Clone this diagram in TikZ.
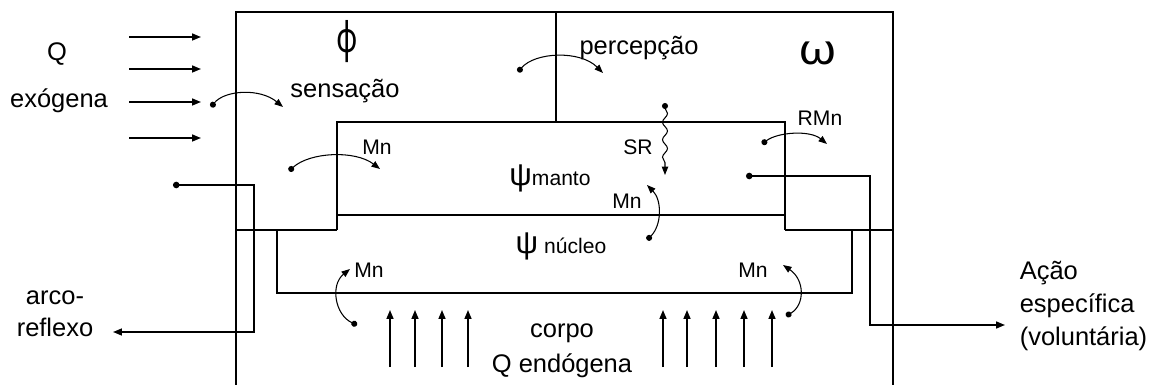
\documentclass[tikz,border=0pt]{standalone}
\usepackage{fontspec}
\setmainfont{Liberation Sans}
\newfontfamily\greekfont{Noto Sans}
\usetikzlibrary{arrows.meta, decorations.pathmorphing}

\begin{document}
\begin{tikzpicture}[x=0.02cm, y=-0.02cm, line width=0.9pt,
    lbl/.style={inner sep=0pt, align=center, font=\fontsize{14.5}{18.5}\selectfont},
    sm/.style={inner sep=0pt, font=\fontsize{12}{14}\selectfont},
    arr/.style={-{Triangle[length=1.8mm, width=1.4mm]}},
    dotarr/.style={{Circle[length=1.3mm]}-{Triangle[length=1.8mm, width=1.4mm]}},
    turn/.style={line width=0.6pt, {Circle[length=1.2mm]}-{Triangle[length=1.7mm, width=1.3mm]}}]
    \useasboundingbox (0,0) rectangle (1154,385);

    \draw (236,385) -- (236,12) -- (893,12) -- (893,385);
    \draw (556,12) -- (556,122);
    \draw (337,230) -- (337,122) -- (785,122) -- (785,230);
    \draw (337,215) -- (785,215);
    \draw (236,230) -- (337,230);
    \draw (785,230) -- (893,230);
    \draw (277,230) -- (277,293) -- (852,293) -- (852,230);

    \node[lbl] (q) at (57,54) {Q};
    \node[lbl] (exo) at (59,101) {exógena};
    \node[inner sep=0pt] (phi) at (347,42) {\scalebox{0.7}[1]{\greekfont\fontsize{24}{24}\selectfont ϕ}};
    \node[lbl] (sens) at (345,91) {sensação};
    \node[lbl] (perc) at (639,48) {percepção};
    \node[inner sep=0pt] (omega) at (818,53) {\scalebox{1.15}[1]{\greekfont\fontsize{24}{24}\selectfont ω}};
    \node[sm] (mn1) at (377,147) {Mn};
    \node[sm] (sr) at (638,147) {SR};
    \node[sm] (rmn) at (820,118) {RMn};
    \node[sm] (manto) at (550,178) {{\fontsize{18}{18}\selectfont ψ}manto};
    \node[sm] (mn2) at (627,201) {Mn};
    \node[sm] (nucleo) at (561,246) {{\fontsize{18}{18}\selectfont ψ} núcleo};
    \node[sm] (mn3) at (369,270) {Mn};
    \node[sm] (mn4) at (753,270) {Mn};
    \node[lbl] (corpo) at (562,333) {corpo};
    \node[lbl] (endo) at (562,366) {Q endógena};
    \node[lbl] (arco) at (55,314) {arco-\\reflexo};
    \node[lbl, anchor=west, align=left] (acao) at (1019,306) {Ação\\específica\\(voluntária)};

    \foreach \y [count=\i] in {37,69,102,138} {
        \coordinate (ia\i) at (129,\y);
        \coordinate (ib\i) at (201,\y);
        \draw[arr] (ia\i) -- (ib\i);
    }
    \foreach \x [count=\i] in {390,415,442,468,663,687,716,744,772} {
        \coordinate (ua\i) at (\x,367);
        \coordinate (ub\i) at (\x,310);
        \draw[arr] (ua\i) -- (ub\i);
    }

    \coordinate (arcdot) at (173,185);
    \coordinate (arcturn) at (254,332);
    \coordinate (arcend) at (113,332);
    \draw[dotarr] (arcdot) -| (arcturn) -- (arcend);
    \coordinate (acdot) at (746,176);
    \coordinate (acturn) at (870,325);
    \coordinate (acend) at (1005,325);
    \draw[dotarr] (acdot) -| (acturn) -- (acend);

    \coordinate (sa) at (211,107);
    \coordinate (sb) at (283,107);
    \draw[turn] (sa) .. controls (225,90) and (260,88) .. (sb);
    \coordinate (pa) at (518,72);
    \coordinate (pb) at (603,73);
    \draw[turn] (pa) .. controls (535,52) and (580,50) .. (pb);
    \coordinate (ma) at (289,171);
    \coordinate (mb) at (380,169);
    \draw[turn] (ma) .. controls (310,152) and (355,150) .. (mb);
    \coordinate (ra) at (762,144);
    \coordinate (rb) at (827,144);
    \draw[turn] (ra) .. controls (778,132) and (810,130) .. (rb);
    \coordinate (ca) at (647,240);
    \coordinate (cb) at (647,185);
    \draw[turn] (ca) .. controls (662,225) and (662,200) .. (cb);
    \coordinate (la) at (357,325);
    \coordinate (lb) at (350,269);
    \draw[turn] (la) .. controls (335,315) and (330,285) .. (lb);
    \coordinate (na) at (786,316);
    \coordinate (nb) at (783,265);
    \draw[turn] (na) .. controls (805,305) and (805,280) .. (nb);

    \coordinate (srtop) at (665,103);
    \coordinate (srbot) at (665,175);
    \draw[turn, decorate, decoration={snake, amplitude=0.5mm, segment length=3.5mm, pre length=1mm, post length=2mm}] (srtop) -- (srbot);
\end{tikzpicture}
\end{document}
